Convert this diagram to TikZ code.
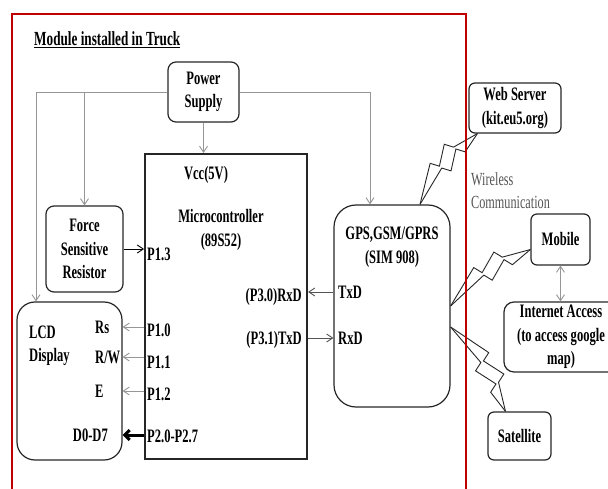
\documentclass[tikz,border=0pt]{standalone}
\usepackage{fontspec}
\setmainfont{Liberation Serif}[FakeStretch=0.66]
\usepackage{tikz}
\usetikzlibrary{arrows.meta, positioning, calc}
\definecolor{framered}{RGB}{192, 0, 0}
\definecolor{wiregray}{RGB}{150, 150, 150}
\definecolor{sigdark}{RGB}{85, 85, 85}

\begin{document}
\begin{tikzpicture}[x=1pt, y=-1pt, font=\fontsize{19}{23.5}\selectfont\bfseries,
  box/.style={draw=black!85, line width=1.2pt, rounded corners=8pt, align=center, inner sep=0pt},
  txt/.style={inner sep=0pt},
  wire/.style={draw=wiregray, line width=0.9pt, -{Straight Barb[length=6pt, width=8pt]}},
  sig/.style={draw=sigdark, line width=0.9pt, -{Straight Barb[length=6pt, width=8pt]}},
  bus/.style={draw=black, line width=3pt, -{Straight Barb[length=5pt, width=10pt]}},
  bolt/.style={draw=black!85, line width=0.9pt}]
  \useasboundingbox (0,0) rectangle (608,489);

  \node[txt, anchor=west, font=\fontsize{20}{22}\selectfont\bfseries] (title) at (34,40) {\underline{Module installed in Truck}};

  \node[box, minimum width=71, minimum height=60] (pwr) at (203.5,92) {Power\\Supply};

  \node[box, sharp corners, line width=2pt, minimum width=162, minimum height=305] (mcu) at (226,306.5) {};
  \node[txt] (vcc) at (206,175) {Vcc(5V)};
  \node[txt, align=center] (mcname) at (221,230) {Microcontroller\\(89S52)};
  \node[txt, anchor=west] (p13) at (147,254) {P1.3};
  \node[txt, anchor=west] (p10) at (147,330) {P1.0};
  \node[txt, anchor=west] (p11) at (147,362) {P1.1};
  \node[txt, anchor=west] (p12) at (147,394) {P1.2};
  \node[txt, anchor=west] (p2x) at (147,436) {P2.0-P2.7};
  \node[txt, anchor=east] (p30) at (302,297) {(P3.0)RxD};
  \node[txt, anchor=east] (p31) at (302,340) {(P3.1)TxD};

  \node[box, minimum width=77, minimum height=86] (fsr) at (84.5,249) {Force\\Sensitive\\Resistor};

  \node[box, rounded corners=18pt, minimum width=105, minimum height=158] (lcd) at (69.5,381) {};
  \node[txt, align=left, anchor=west] (lcdname) at (29,346) {LCD\\Display};
  \node[txt, anchor=west] (rs) at (95,327) {Rs};
  \node[txt, anchor=west] (rw) at (95,357) {R/W};
  \node[txt, anchor=west] (en) at (95,391) {E};
  \node[txt, anchor=east] (dat) at (108,435) {D0-D7};

  \node[box, rounded corners=22pt, minimum width=116, minimum height=202] (gps) at (392,306) {};
  \node[txt, align=center] (gpsname) at (392,247) {GPS,GSM/GPRS\\(SIM 908)};
  \node[txt, anchor=west] (gtx) at (338,292) {TxD};
  \node[txt, anchor=west] (grx) at (338,338) {RxD};

  \node[box, rounded corners=6pt, minimum width=92, minimum height=50] (web) at (515,108) {Web Server\\(kit.eu5.org)};
  \node[box, rounded corners=6pt, minimum width=59, minimum height=51] (mob) at (560.5,239.5) {Mobile};
  \node[box, rounded corners=10pt, minimum width=114, minimum height=70] (inet) at (561,337) {Internet Access\\(to access google\\map)};
  \node[box, rounded corners=6pt, minimum width=63, minimum height=48] (sat) at (519.5,436) {Satellite};
  \node[txt, anchor=west, align=left, text=sigdark, font=\fontsize{18.5}{23}\selectfont\mdseries] (wless) at (471,191) {Wireless\\Communication};

  \draw[wire] (pwr.west) -| ([xshift=-33.5]lcd.north);
  \draw[wire] (pwr.west -| fsr.north) -- (fsr.north);
  \draw[wire] (pwr.east) -| ([xshift=-22]gps.north);
  \draw[wire] (pwr.south) -- (pwr.south |- mcu.north);
  \draw[sig, draw=black] (fsr.east) -- (fsr.east -| mcu.west);
  \foreach \pin in {rs, rw, en}
    \draw[wire] (mcu.west |- \pin) -- (lcd.east |- \pin);
  \draw[bus] (mcu.west |- dat) -- (lcd.east |- dat);
  \draw[sig] (gps.west |- gtx) -- (mcu.east |- gtx);
  \draw[sig] (mcu.east |- grx) -- (gps.west |- grx);
  \draw[wire, {Straight Barb[length=6pt, width=8pt]}-{Straight Barb[length=6pt, width=8pt]}] (mob.south) -- (mob.south |- inet.north);

  \coordinate (w1) at ([xshift=28]gps.north);
  \coordinate (w2) at ([xshift=9]web.south west);
  \coordinate (m1) at (gps.east);
  \coordinate (m2) at ($(mob.west)+(0,10)$);
  \coordinate (s1) at ($(gps.east)+(0,21)$);
  \coordinate (s2) at ([xshift=-14]sat.north);
  \foreach \a/\b in {w1/w2, m1/m2, s1/s2} {
    \draw[bolt] (\a) -- ($(\a)!0.42!(\b)!18pt!90:(\b)$) -- ($(\a)!0.46!(\b)!9pt!90:(\b)$)
      -- ($(\a)!0.68!(\b)!19pt!90:(\b)$) -- ($(\a)!0.72!(\b)!10pt!90:(\b)$) -- (\b);
    \draw[bolt] (\a) -- ($(\a)!0.46!(\b)!6pt!90:(\b)$) -- ($(\a)!0.50!(\b)!-3pt!90:(\b)$)
      -- ($(\a)!0.72!(\b)!7pt!90:(\b)$) -- ($(\a)!0.76!(\b)!-2pt!90:(\b)$) -- (\b);
  }

  \draw[framered, line width=2.2pt] (12,492) -- (12,14) -- (466,14) -- (466,492);
\end{tikzpicture}
\end{document}
